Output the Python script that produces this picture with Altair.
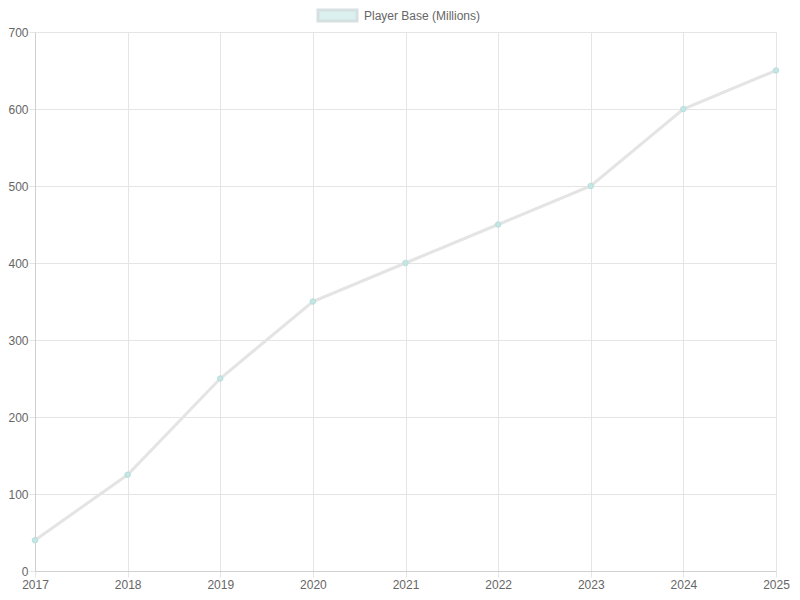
import altair as alt
import pandas as pd

years = [2017, 2018, 2019, 2020, 2021, 2022, 2023, 2024, 2025]
players = [40, 125, 250, 350, 400, 450, 500, 600, 650]
series_label = "Player Base (Millions)"

df = pd.DataFrame({"year": years, "players": players})

common = dict(title=None, labelFlush=False, gridColor="#e5e5e5", tickColor="#e5e5e5",
              domainColor="#d0d0d0", labelColor="#666666", labelFontSize=12,
              labelFont="Liberation Sans")

x = alt.X("year:Q", scale=alt.Scale(domain=[2017, 2025], nice=False, zero=False),
          axis=alt.Axis(values=years, format="d", tickSize=6, labelPadding=2, **common))
y = alt.Y("players:Q", scale=alt.Scale(domain=[0, 700], nice=False),
          axis=alt.Axis(values=list(range(0, 701, 100)), tickSize=6, labelPadding=1, **common))

base = alt.Chart(df)
line = base.mark_line(color="#e4e4e4", strokeWidth=3).encode(x=x, y=y)
pts = base.mark_point(filled=True, size=30, color="#c4e6e4", stroke="#b8dedc",
                      strokeWidth=1, opacity=1).encode(x=x, y=y)

leg_df = pd.DataFrame({"label": [series_label]})
leg_box = alt.Chart(leg_df).mark_rect(fill="#daf1f0", stroke="#d6e0e0", strokeWidth=3).encode(
    x=alt.value(283), x2=alt.value(322), y=alt.value(-22), y2=alt.value(-11))
leg_text = alt.Chart(leg_df).mark_text(align="left", baseline="middle", fontSize=12,
                                       font="Liberation Sans", color="#666666").encode(
    x=alt.value(329), y=alt.value(-16.5), text="label:N")

chart = alt.layer(line, pts, leg_box, leg_text).properties(
    width=741, height=539,
    autosize=alt.AutoSizeParams(type="none"),
    padding={"left": 27, "top": 24, "right": 16, "bottom": 21},
).configure_view(stroke=None)

chart.save("out.html", embed_options={"renderer": "svg", "actions": False})
